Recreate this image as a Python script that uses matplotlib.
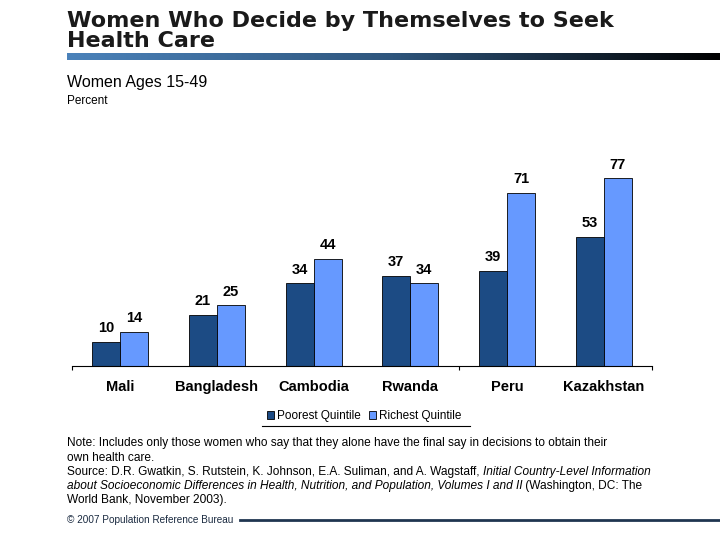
import matplotlib.pyplot as plt
import numpy as np
from matplotlib.lines import Line2D
from matplotlib.patches import Patch
from matplotlib.colors import LinearSegmentedColormap

# data
countries = ['Mali', 'Bangladesh', 'Cambodia', 'Rwanda', 'Peru', 'Kazakhstan']
poorest = [10, 21, 34, 37, 39, 53]
richest = [14, 25, 44, 34, 71, 77]
series_names = ['Poorest Quintile', 'Richest Quintile']

dark = '#1C4B84'
light = '#6699FF'

W, H = 720, 540
fig = plt.figure(figsize=(7.2, 5.4), dpi=100)
renderer = fig.canvas.get_renderer()

def fx(px):
    return px / W

def fy(py):
    return 1 - py / H

# titles
for line, base in (('Women Who Decide by Themselves to Seek', 27), ('Health Care', 47)):
    fig.text(fx(67), fy(base), line, fontsize=16, fontweight='heavy', family='DejaVu Sans',
             color='#1a1a1a', va='baseline', ha='left')

# gradient bar under title
gax = fig.add_axes([fx(67), fy(60), fx(720 - 67), (60 - 53) / H])
grad = np.linspace(0, 1, 256).reshape(1, -1)
cmap = LinearSegmentedColormap.from_list('g', ['#4B82BA', '#2E557C', '#000000'])
gax.imshow(grad, aspect='auto', cmap=cmap)
gax.axis('off')

fig.text(fx(67), fy(87), 'Women Ages 15-49', fontsize=11.5, family='Liberation Sans',
         va='baseline', ha='left')
fig.text(fx(67), fy(104), 'Percent', fontsize=8.5, family='Liberation Sans',
         va='baseline', ha='left')

# chart
ax = fig.add_axes([fx(72), fy(366), fx(652 - 72), 80 * 2.44 / H])
x = np.arange(len(countries))
bw = 0.29
b1 = ax.bar(x - bw / 2, poorest, bw, color=dark, edgecolor='black', linewidth=0.6)
b2 = ax.bar(x + bw / 2, richest, bw, color=light, edgecolor='black', linewidth=0.6)
for bars, vals in ((b1, poorest), (b2, richest)):
    for r, v in zip(bars, vals):
        ax.text(r.get_x() + r.get_width() / 2, v + 2.6, str(v), ha='center', va='bottom',
                fontsize=10.5, fontweight='bold', family='Liberation Sans')

ax.set_xlim(-0.5, len(countries) - 0.5)
ax.set_ylim(0, 80)
for s in ('top', 'right', 'left'):
    ax.spines[s].set_visible(False)
ax.spines['bottom'].set_linewidth(0.8)
ax.set_yticks([])
ax.set_xticks(x)
ax.set_xticklabels(countries, fontsize=10.5, fontweight='bold', family='Liberation Sans')
ax.tick_params(axis='x', which='major', length=0, pad=10)
ax.set_xticks([-0.5, 3.5, len(countries) - 0.5], minor=True)
ax.tick_params(axis='x', which='minor', length=3, width=0.8)

# legend
handles = [Patch(facecolor=dark, edgecolor='black', linewidth=0.6),
           Patch(facecolor=light, edgecolor='black', linewidth=0.6)]
fig.legend(handles, series_names, loc='center', bbox_to_anchor=(fx(364), fy(416)),
           ncol=2, frameon=False, handlelength=0.6, handleheight=0.6,
           handletextpad=0.25, columnspacing=0.7, prop={'family': 'Liberation Sans', 'size': 8.5})
fig.add_artist(Line2D([fx(262), fx(470)], [fy(426), fy(426)], color='black', linewidth=0.8))

# notes
fs = 8.6

def text_run(px, base, pieces):
    # draw pieces one after another on the same baseline
    xpos = fx(px)
    for s, st in pieces:
        t = fig.text(xpos, fy(base), s, fontsize=fs, family='Liberation Sans', style=st,
                     va='baseline', ha='left')
        bb = t.get_window_extent(renderer=renderer)
        xpos = fx(bb.x1)

text_run(67, 446, [('Note: Includes only those women who say that they alone have the final say in decisions to obtain their', 'normal')])
text_run(67, 461, [('own health care.', 'normal')])
text_run(67, 475, [('Source: D.R. Gwatkin, S. Rutstein, K. Johnson, E.A. Suliman, and A. Wagstaff, ', 'normal'),
                   ('Initial Country-Level Information', 'italic')])
text_run(67, 489, [('about Socioeconomic Differences in Health, Nutrition, and Population, Volumes I and II', 'italic'),
                   (' (Washington, DC: The', 'normal')])
text_run(67, 503, [('World Bank, November 2003).', 'normal')])

fig.text(fx(67), fy(523), '\u00a9 2007 Population Reference Bureau', fontsize=7.2,
         family='Liberation Sans', va='baseline', color='#1a2a40')
fig.add_artist(Line2D([fx(240), fx(720)], [fy(520), fy(520)], color='#1F3550', linewidth=2))

fig.savefig('out.png', dpi=100)
